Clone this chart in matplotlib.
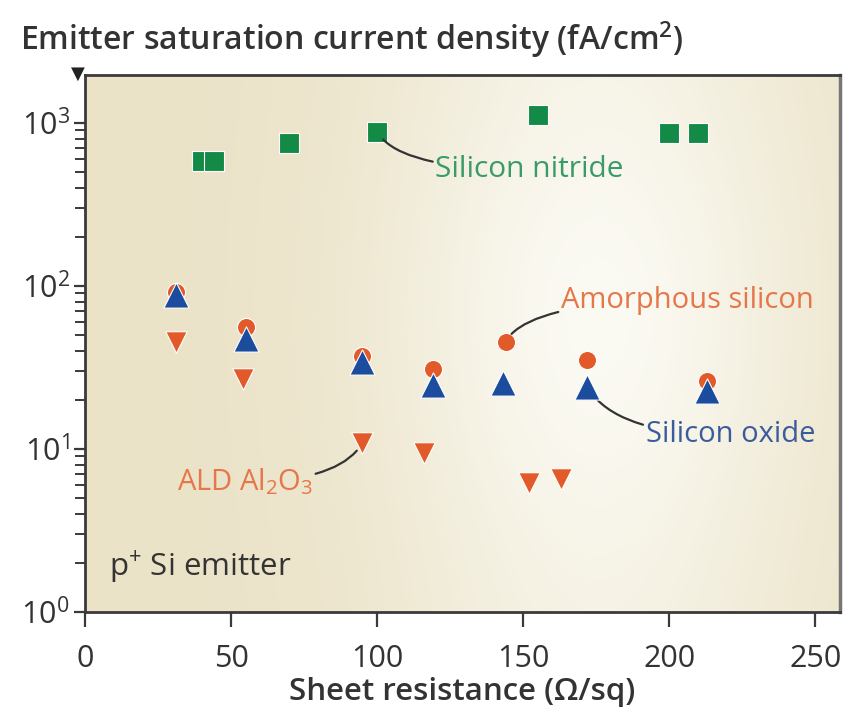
import numpy as np
import matplotlib
matplotlib.use("Agg")
from matplotlib import pyplot as plt

FONT = "Open Sans"
plt.rcParams["font.family"] = [FONT, "DejaVu Sans"]
plt.rcParams["mathtext.fontset"] = "custom"
plt.rcParams["mathtext.rm"] = FONT
plt.rcParams["mathtext.it"] = FONT
plt.rcParams["mathtext.default"] = "regular"

# --- data (sheet resistance, Ohm/sq ; J0e, fA/cm2)
nitride_x = [40, 44, 70, 100, 155, 200, 210]
nitride_y = [580, 580, 755, 880, 1120, 870, 870]

asi_x = [31, 55, 95, 119, 144, 172, 213]
asi_y = [92, 56, 37, 31, 45.5, 35, 26]

oxide_x = [31, 55, 95, 119, 143, 172, 213]
oxide_y = [88, 47, 34, 24.5, 25.5, 24, 22.5]

ald_x = [31, 54, 95, 116, 152, 163]
ald_y = [45, 27, 10.9, 9.5, 6.2, 6.5]

x_ticks = [0, 50, 100, 150, 200, 250]
y_ticks = [1, 10, 100, 1000]
y_tick_labels = ["10$^{0}$", "10$^{1}$", "10$^{2}$", "10$^{3}$"]

GREEN = "#138a45"
ORANGE = "#e2592a"
BLUE = "#1b4c9e"
AXIS = "#3a3a3a"

fig = plt.figure(figsize=(8.45, 7.14), dpi=100)
ax = fig.add_axes([0.1006, 0.1429, 0.8935, 0.752])

# --- beige background with a light glow towards the right
gx = np.linspace(0, 1, 300)
gy = np.linspace(0, 1, 200)
GX, GY = np.meshgrid(gx, gy)
glow = np.exp(-((GX - 0.68) / 0.28) ** 2) * (0.6 + 0.4 * np.exp(-((GY - 0.55) / 0.45) ** 2))
dark = np.array([235, 227, 200]) / 255.0
light = np.array([251, 250, 243]) / 255.0
img = dark[None, None, :] + (light - dark)[None, None, :] * glow[..., None]
ax.imshow(img, extent=[0, 1, 0, 1], transform=ax.transAxes, aspect="auto",
          zorder=0, origin="lower")

ax.set_yscale("log")
ax.set_xlim(0, 258.5)
ax.set_ylim(1, 1960)

ax.scatter(nitride_x, nitride_y, marker="s", s=200, color=GREEN,
           edgecolors="white", linewidths=0.8, zorder=3)
ax.scatter(asi_x, asi_y, marker="o", s=170, color=ORANGE,
           edgecolors="white", linewidths=0.8, zorder=3)
ax.scatter(oxide_x, oxide_y, marker="^", s=330, color=BLUE,
           edgecolors="white", linewidths=0.8, zorder=4)
ax.scatter(ald_x, ald_y, marker="v", s=240, color=ORANGE,
           edgecolors="white", linewidths=0.8, zorder=3)

# --- labels with curved leaders
lead = dict(arrowstyle="-", color="#333333", lw=1.6, shrinkA=0, shrinkB=7)
ax.annotate("Silicon nitride", xy=(100, 880), xytext=(120, 516),
            fontsize=21.5, color="#3a9a68", va="center", ha="left",
            arrowprops=dict(lead, connectionstyle="angle3,angleA=0,angleB=-60"))
ax.annotate("Amorphous silicon", xy=(144, 45.5), xytext=(163, 81),
            fontsize=21, color="#e5774a", va="center", ha="left",
            arrowprops=dict(lead, connectionstyle="angle3,angleA=0,angleB=60"))
ax.annotate("Silicon oxide", xy=(172, 24), xytext=(192, 12.2),
            fontsize=21, color="#3b5c9c", va="center", ha="left",
            arrowprops=dict(lead, connectionstyle="angle3,angleA=0,angleB=-60"))
ax.annotate("ALD Al$_2$O$_3$", xy=(95, 10.9), xytext=(78, 6.3),
            fontsize=21, color="#e5774a", va="center", ha="right",
            arrowprops=dict(lead, connectionstyle="angle3,angleA=0,angleB=60"))
ax.text(0.032, 0.05, "p$^{+}$ Si emitter", transform=ax.transAxes,
        fontsize=22.5, color="#333333", ha="left", va="bottom")

# --- axes styling
ax.set_xticks(x_ticks)
ax.set_xticklabels([str(v) for v in x_ticks])
ax.set_yticks(y_ticks)
ax.set_yticklabels(y_tick_labels)
ax.tick_params(axis="both", which="major", direction="out", length=8, width=1.6,
               color=AXIS, labelsize=22, labelcolor="#333333", pad=3)
ax.tick_params(axis="y", which="minor", direction="out", length=7, width=1.4,
               color=AXIS)
ax.tick_params(axis="x", which="major", length=11, pad=12)
for side in ["left", "bottom", "top"]:
    ax.spines[side].set_color(AXIS)
    ax.spines[side].set_linewidth(2)
ax.spines["right"].set_color("#777777")
ax.spines["right"].set_linewidth(2.5)

ax.set_xlabel("Sheet resistance (Ω/sq)", fontsize=22.5, fontweight="semibold",
              color="#333333", labelpad=2)
fig.text(0.024, 0.945, "Emitter saturation current density (fA/cm$^2$)",
         fontsize=23, fontweight="semibold", color="#333333", ha="left", va="center")
fig.text(0.092, 0.896, "▼", fontsize=13, color="#222222", ha="center", va="center",
         family="DejaVu Sans")

fig.savefig("out.png", dpi=100)
